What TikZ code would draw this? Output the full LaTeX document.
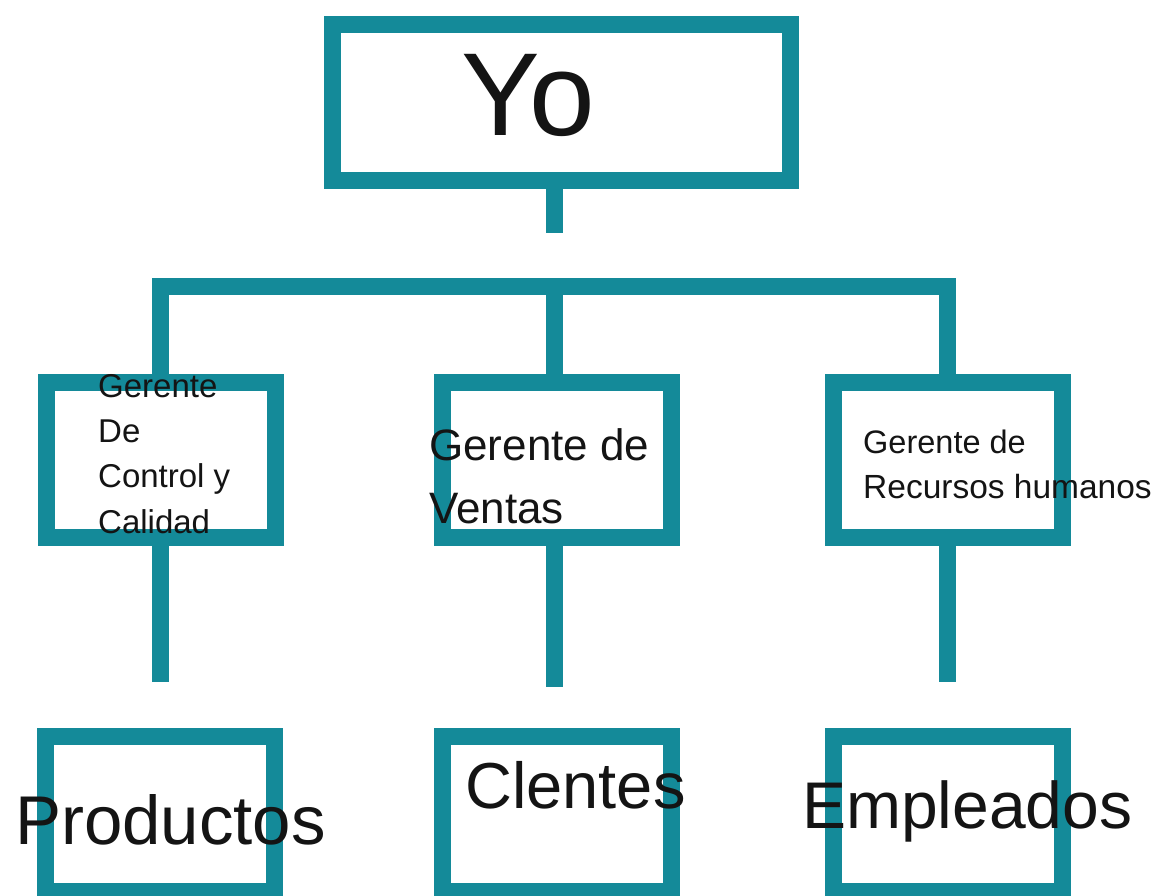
\documentclass[tikz,border=0pt]{standalone}
\usepackage{fontspec}
\setmainfont{Liberation Sans}
\definecolor{tealline}{RGB}{20,138,153}
\begin{document}
\begin{tikzpicture}[x=1pt,y=-1pt,
  box/.style={draw=tealline,line width=17pt,rectangle,inner sep=0pt,minimum width=229pt,minimum height=155pt},
  conn/.style={draw=tealline,line width=17pt,line cap=butt,line join=miter},
  lbl/.style={inner sep=0pt,text=black!92,anchor=base west}]
\useasboundingbox (0,0) rectangle (1156,895);
\clip (0,0) rectangle (1156,895);
\fill[white] (0,0) rectangle (1156,895);
% boxes
\node[box,minimum width=458pt,minimum height=156pt] (yo) at (561.5,102) {};
\node[box] (gc) at (160.5,460) {};
\node[box] (gv) at (557,460) {};
\node[box] (gr) at (947.5,459.5) {};
\node[box] (pr) at (160,814) {};
\node[box] (cl) at (557,814) {};
\node[box] (em) at (947.5,814) {};
% connectors
\coordinate (s) at (554,233);
\coordinate (busL) at (160.5,286.5);
\coordinate (busR) at (947.5,286.5);
\coordinate (d1) at (160.5,682);
\coordinate (d2) at (554,687);
\coordinate (d3) at (947.5,682);
\draw[conn] (yo.south -| s) -- (s);
\draw[conn] (gc.north) -- (busL) -- (busR) -- (gr.north);
\draw[conn] (s |- busL) -- (gv.north -| s);
\draw[conn] (gc.south) -- (d1);
\draw[conn] (gv.south -| d2) -- (d2);
\draw[conn] (gr.south) -- (d3);
% texts
\node[lbl,font=\fontsize{118}{130}\selectfont] (tyo) at (461,135) {Yo};
\node[lbl,font=\fontsize{33}{40}\selectfont] (gc1) at (98,397) {Gerente};
\node[lbl,font=\fontsize{33}{40}\selectfont] (gc2) at (98,442) {De};
\node[lbl,font=\fontsize{33}{40}\selectfont] (gc3) at (98,487) {Control y};
\node[lbl,font=\fontsize{33}{40}\selectfont] (gc4) at (98,533) {Calidad};
\node[lbl,font=\fontsize{44}{50}\selectfont] (gv1) at (429,460) {Gerente de};
\node[lbl,font=\fontsize{44}{50}\selectfont] (gv2) at (429,523) {Ventas};
\node[lbl,font=\fontsize{32.5}{40}\selectfont] (gr1) at (863,453) {Gerente de};
\node[lbl,font=\fontsize{33.5}{40}\selectfont] (gr2) at (863,498) {Recursos humanos};
\node[lbl,font=\fontsize{69}{80}\selectfont] (tpr) at (15,844) {Productos};
\node[lbl,font=\fontsize{65}{75}\selectfont] (tcl) at (465,808) {Clentes};
\node[lbl,font=\fontsize{66}{75}\selectfont] (tem) at (802,828) {Empleados};
\end{tikzpicture}
\end{document}
